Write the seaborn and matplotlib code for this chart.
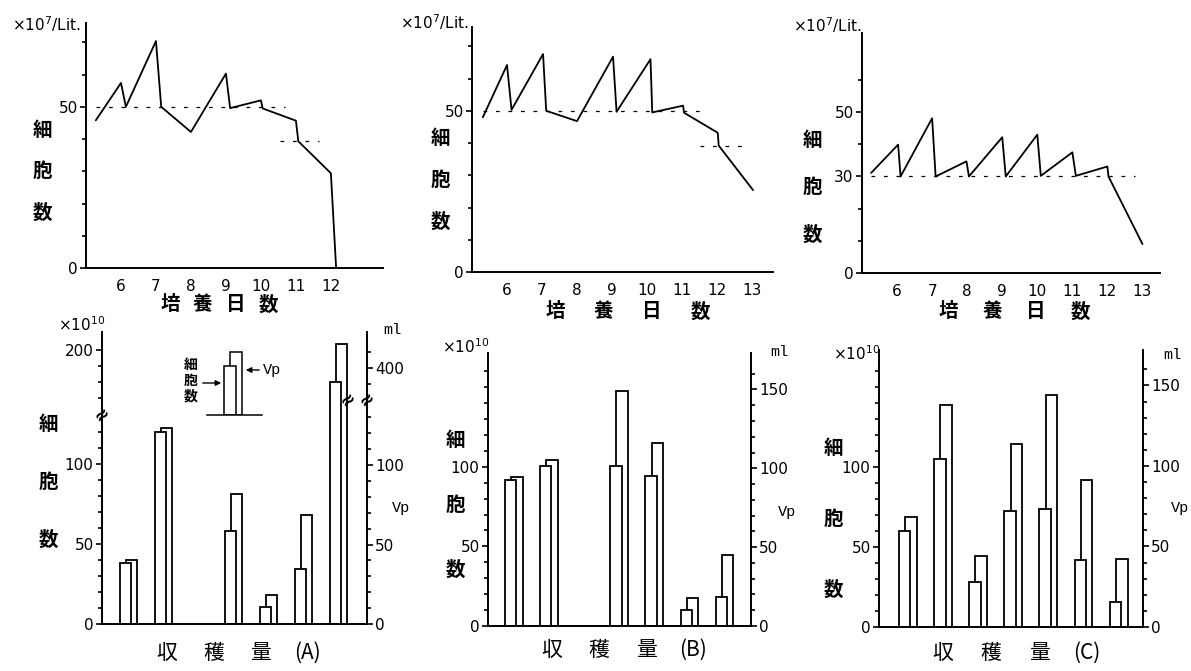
import numpy as np
import pandas as pd
import matplotlib
matplotlib.use("Agg")
import matplotlib.pyplot as plt
import seaborn as sns

# top row: cell count during culture (x10^7 / Lit.) against culture day
days_a = [5.28, 6.0, 6.14, 7.0, 7.15, 8.0, 9.0, 9.12, 10.0, 10.05, 11.0, 11.07, 12.0, 12.15]
cells_day_a = [45.8, 57.4, 50.0, 70.4, 50.0, 42.2, 60.3, 49.6, 52.0, 49.5, 45.7, 39.3, 29.4, 0.0]
days_b = [5.31, 6.0, 6.13, 7.03, 7.12, 8.0, 9.03, 9.13, 10.1, 10.15, 11.03, 11.06, 12.02, 12.05, 13.03]
cells_day_b = [48.0, 64.2, 50.3, 67.6, 50.0, 46.8, 66.8, 49.7, 66.0, 49.5, 51.6, 49.4, 43.2, 39.2, 25.4]
days_c = [5.26, 6.03, 6.1, 7.0, 7.1, 7.98, 8.05, 9.0, 9.1, 10.0, 10.1, 11.0, 11.1, 12.0, 12.03, 13.0]
cells_day_c = [31.1, 39.9, 30.0, 48.1, 30.0, 34.7, 30.0, 42.2, 30.0, 43.0, 30.2, 37.5, 30.2, 33.1, 30.0, 9.0]
# dashed levels kept after harvest: (level, from day, to day)
keep_a = [(50, 5.3, 10.7), (39.3, 10.55, 11.67)]
keep_b = [(50, 5.31, 11.57), (39.2, 11.5, 12.76)]
keep_c = [(30, 5.26, 12.8)]

# bottom row: harvests, cell count (x10^10) and Vp (ml)
harvest = [0, 1, 2, 3, 4, 5, 6]
cells_a = [37.9, 120.2, np.nan, 58.1, 10.8, 34.2, 180.2]
vp_a = [40.1, 123.3, np.nan, 81.7, 18.3, 68.8, 414.8]
cells_b = [91.6, 100.6, np.nan, 100.4, 94.4, 10.0, 18.4]
vp_b = [94.3, 105.3, np.nan, 149.3, 115.9, 17.5, 44.8]
cells_c = [60.0, 104.8, 28.1, 72.3, 74.0, 41.7, 15.6]
vp_c = [68.3, 137.7, 43.9, 113.9, 144.3, 91.5, 42.0]
legend_key = [49, 63]  # sample heights for the key: cell count, Vp

VP_SHIFT = 0.177
BAR_W = 0.33

sns.set_theme(style="white", rc={"axes.edgecolor": "black", "axes.linewidth": 1.4,
                                 "xtick.color": "black", "ytick.color": "black",
                                 "text.color": "black", "axes.labelcolor": "black"})
plt.rcParams["font.family"] = ["DejaVu Sans", "Noto Sans CJK JP"]
CJK = ["Noto Sans CJK JP", "DejaVu Sans"]
MONO = ["Liberation Mono", "DejaVu Sans Mono"]

W, H = 1191, 671
fig = plt.figure(figsize=(W / 100, H / 100), dpi=100)
fig.patch.set_facecolor("white")


def px_axes(x0, y0, x1, y1):
    return fig.add_axes([x0 / W, 1 - y1 / H, (x1 - x0) / W, (y1 - y0) / H])


def put(x, y, s, **kw):
    kw.setdefault("va", "center")
    fig.text(x / W, 1 - y / H, s, **kw)


def spread(tokens, x0, x1, y, **kw):
    step = (x1 - x0) / (len(tokens) - 1)
    for i, t in enumerate(tokens):
        put(x0 + i * step, y, t, ha="center", **kw)


def stack(tokens, x, y0, y1, **kw):
    step = (y1 - y0) / (len(tokens) - 1)
    for i, t in enumerate(tokens):
        put(x, y0 + i * step, t, ha="center", **kw)


def broken(lo, hi):
    xp = [-1e4, lo, hi, 1e4]
    fp = [-1e4, lo, lo + 0.3, lo + 0.3 + 1e4 - hi]
    return (lambda v: np.interp(v, xp, fp)), (lambda t: np.interp(t, fp, xp))


def growth_panel(box, days, cells, keep, xmax, ymax, major, minor, last_day):
    ax = px_axes(*box)
    sns.lineplot(x=days, y=cells, sort=False, estimator=None, color="black", lw=1.3, ax=ax)
    for level, d0, d1 in keep:
        ax.hlines(level, d0, d1, colors="black", lw=0.9, linestyles=(0, (3, 7)))
    ax.set_xlim(5, xmax)
    ax.set_ylim(0, ymax)
    ax.set_xticks(range(6, last_day + 1))
    ax.set_yticks(major)
    ax.set_yticks(minor, minor=True)
    ax.tick_params(axis="x", length=0, pad=8, labelsize=11)
    ax.tick_params(axis="y", which="both", direction="out", left=True, labelsize=11, pad=2)
    ax.tick_params(axis="y", which="major", length=4, width=1.2)
    ax.tick_params(axis="y", which="minor", length=3, width=1.2)
    for s in ("top", "right"):
        ax.spines[s].set_visible(False)
    ax.set_xlabel("")
    ax.set_ylabel("")
    ax.set_facecolor("none")
    return ax


def harvest_panel(box, cells, vp, xlim, ltop, rtop, lmajor, lminor, rmajor, rminor,
                  lbreak=None, rbreak=None):
    df = pd.DataFrame({"pos": harvest, "cells": cells, "vp": vp}).dropna()
    df["pos_vp"] = df["pos"] + VP_SHIFT
    ax = px_axes(*box)
    ax2 = ax.twinx()
    if lbreak:
        lf = broken(*lbreak)
        ax.set_yscale("function", functions=lf)
    if rbreak:
        rf = broken(*rbreak)
        ax2.set_yscale("function", functions=rf)
    kw = dict(native_scale=True, width=BAR_W, color="white", saturation=1,
              edgecolor="black", linewidth=1.3, errorbar=None)
    sns.barplot(data=df, x="pos_vp", y="vp", ax=ax2, **kw)
    sns.barplot(data=df, x="pos", y="cells", ax=ax, **kw)
    ax.set_zorder(ax2.get_zorder() + 1)
    ax.patch.set_visible(False)
    ax.set_xlim(*xlim)
    ax.set_ylim(0, ltop)
    ax2.set_ylim(0, rtop)
    ax.set_xticks([])
    ax.set_yticks(lmajor)
    ax.set_yticks(lminor, minor=True)
    ax2.set_yticks(rmajor)
    ax2.set_yticks(rminor, minor=True)
    for a, side in ((ax, "left"), (ax2, "right")):
        a.tick_params(axis="y", which="both", direction="out", labelsize=11, pad=2,
                      left=(side == "left"), right=(side == "right"), width=1.2)
        a.tick_params(axis="y", which="major", length=4)
        a.tick_params(axis="y", which="minor", length=3)
        a.set_xlabel("")
        a.set_ylabel("")
    for s in ("top", "right"):
        ax.spines[s].set_visible(False)
    for s in ("top", "left", "bottom"):
        ax2.spines[s].set_visible(False)
    # break marks
    mark = dict(ha="center", va="center", fontsize=13, rotation=40, fontweight="bold")
    if lbreak:
        frac = lf[0](lbreak[0]) / lf[0](ltop)
        ax.text(0, frac, "≈", transform=ax.transAxes, **mark)
    if rbreak:
        frac = rf[0](rbreak[0]) / rf[0](rtop)
        ax2.text(1, frac, "≈", transform=ax2.transAxes, **mark)
        for p, v in zip(df["pos_vp"], df["vp"]):
            if v > rbreak[1]:
                x = (p + BAR_W / 2 - xlim[0]) / (xlim[1] - xlim[0])
                ax2.text(x, frac, "≈", transform=ax2.transAxes, **mark)
    return ax, ax2


# ---- top row ----
growth_panel((86, 23, 383, 268), days_a, cells_day_a, keep_a, 13.49, 76,
             [0, 50], [10, 20, 30, 40, 60, 70], 12)
growth_panel((472, 27, 773, 272), days_b, cells_day_b, keep_b, 13.6, 76,
             [0, 50], [10, 20, 30, 40, 60, 70], 13)
growth_panel((862, 33, 1160, 273), days_c, cells_day_c, keep_c, 13.5, 74.6,
             [0, 30, 50], [10, 20, 40, 60], 13)

for x, y in ((12, 24), (400, 22), (793, 25)):
    put(x, y, r"×10$^7$/Lit.", ha="left", fontsize=11)

cell_chars = ["細", "胞", "数"]
cjk_kw = dict(family=CJK, fontsize=14, fontweight="bold")
stack(cell_chars, 42, 130, 213, **cjk_kw)
stack(cell_chars, 440, 138, 222, **cjk_kw)
stack(cell_chars, 812, 140, 235, **cjk_kw)

day_chars = ["培", "養", "日", "数"]
spread(day_chars, 170, 268, 305, **cjk_kw)
spread(day_chars, 555, 700, 312, **cjk_kw)
spread(day_chars, 948, 1080, 312, **cjk_kw)

# ---- bottom row ----
harvest_panel((102, 332, 367, 624), cells_a, vp_a, (-0.67, 6.9), 211.2, 422.5,
              [0, 50, 100, 200], list(range(0, 130, 10)) + [170, 180, 190],
              [0, 50, 100, 400], list(range(0, 140, 10)) + [390, 410],
              lbreak=(131, 160), rbreak=(141, 380))
harvest_panel((488, 353, 751, 626), cells_b, vp_b, (-0.64, 6.84), 171.4, 173.1,
              [0, 50, 100], range(0, 170, 10), [0, 50, 100, 150], range(0, 170, 10))
harvest_panel((879, 350, 1143, 627), cells_c, vp_c, (-0.73, 6.78), 173.1, 172,
              [0, 50, 100], range(0, 170, 10), [0, 50, 100, 150], range(0, 170, 10))

for x, y in ((58, 325), (442, 347), (833, 354)):
    put(x, y, r"×10$^{10}$", ha="left", fontsize=11)
for x, y in ((383, 330), (770, 352), (1163, 355)):
    put(x, y, "ml", ha="left", fontsize=11, family=MONO)
for x, y in ((392, 508), (778, 512), (1171, 508)):
    put(x, y, "Vp", ha="left", fontsize=11, family=MONO)

stack(cell_chars, 48, 425, 540, **cjk_kw)
stack(cell_chars, 455, 440, 570, **cjk_kw)
stack(cell_chars, 833, 448, 590, **cjk_kw)

bot_kw = dict(family=CJK, fontsize=15)
spread(["収", "穫", "量", "(A)"], 167, 307, 653, **bot_kw)
spread(["収", "穫", "量", "(B)"], 552, 693, 650, **bot_kw)
spread(["収", "穫", "量", "(C)"], 943, 1087, 653, **bot_kw)

# key inset in panel A
ins = px_axes(206.7, 345, 261.7, 415)
kw = dict(native_scale=True, width=BAR_W, color="white", saturation=1,
          edgecolor="black", linewidth=1.1, errorbar=None)
sns.barplot(x=[VP_SHIFT], y=[legend_key[1]], ax=ins, **kw)
sns.barplot(x=[0.0], y=[legend_key[0]], ax=ins, **kw)
ins.set_xlim(-0.666, 0.905)
ins.set_ylim(0, 70)
ins.set_xticks([])
ins.set_yticks([])
for s in ("top", "left", "right"):
    ins.spines[s].set_visible(False)
ins.spines["bottom"].set_linewidth(1.1)
ins.patch.set_visible(False)
stack(cell_chars, 191, 365, 396, family=CJK, fontsize=10, fontweight="bold")
arrow = dict(arrowstyle="-|>", color="black", lw=1.0, mutation_scale=8)
fig.add_artist(matplotlib.patches.FancyArrowPatch((200 / W, 1 - 383 / H), (224 / W, 1 - 383 / H),
                                                  transform=fig.transFigure, **arrow))
fig.add_artist(matplotlib.patches.FancyArrowPatch((262 / W, 1 - 370 / H), (243 / W, 1 - 370 / H),
                                                  transform=fig.transFigure, **arrow))
put(263, 370, "Vp", ha="left", fontsize=11, family=MONO)

fig.savefig("out.png", dpi=100)
